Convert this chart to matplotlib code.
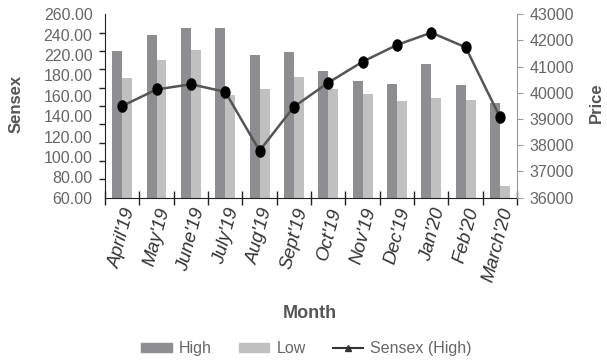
import numpy as np
import matplotlib.pyplot as plt
from matplotlib.lines import Line2D
from matplotlib.patches import Patch
from matplotlib.path import Path

plt.rcParams['font.family'] = ['Liberation Sans', 'DejaVu Sans']

months = ["April'19", "May'19", "June'19", "July'19", "Aug'19", "Sept'19",
          "Oct'19", "Nov'19", "Dec'19", "Jan'20", "Feb'20", "March'20"]
high = [220, 237, 245, 245, 216, 219, 198, 187, 184, 206, 183, 163]
low = [190, 210, 221, 172, 178, 192, 178, 173, 165, 169, 166, 73]
sensex_high = [39500, 40130, 40330, 40040, 37790, 39470,
               40390, 41190, 41830, 42300, 41740, 39070]
left_labels = ["260.00", "240.00", "220.00", "180.00", "160.00", "140.00",
               "120.00", "100.00", "80.00", "60.00"]
right_ticks = [36000, 37000, 38000, 39000, 40000, 41000, 42000, 43000]

dark = '#8e8e92'
light = '#c0c0c0'
text_c = '#666666'

# upright ellipse marker for the line points
t = np.linspace(0, 2 * np.pi, 40)
ellipse = Path(np.column_stack([0.8 * np.cos(t), np.sin(t)]), closed=True)

fig = plt.figure(figsize=(6.07, 3.62), dpi=100)
ax = fig.add_axes([0.173, 0.454, 0.679, 0.5065])
x = np.arange(len(months))
w = 0.29
ax.bar(x - w / 2, high, w, color=dark, zorder=2)
ax.bar(x + w / 2, low, w, color=light, zorder=2)
ax.set_xlim(-0.5, len(months) - 0.5)
ax.set_ylim(60, 260)

# left axis: evenly spaced labels, tick marks every 20
ax.set_yticks(np.linspace(260, 60, len(left_labels)))
ax.set_yticklabels(left_labels)
ax.tick_params(axis='y', which='major', length=0, pad=9, labelsize=11.5, labelcolor=text_c)
ax.set_yticks(np.arange(60, 261, 20), minor=True)
ax.tick_params(axis='y', which='minor', length=4, width=1, color='#222222')

ax.set_xticks(x)
ax.set_xticklabels(months, rotation=75, ha='right', rotation_mode='anchor',
                   style='italic', fontsize=13.5, color='#333333')
ax.tick_params(axis='x', which='major', length=0, pad=6)
ax.set_xticks(np.arange(-0.5, len(months), 1), minor=True)
ax.tick_params(axis='x', which='minor', direction='inout', length=10, width=1, color='#222222')

for s in ['top', 'right']:
    ax.spines[s].set_visible(False)
ax.spines['left'].set_color('#222222')
ax.spines['bottom'].set_color('#222222')

ax2 = ax.twinx()
ax2.plot(x, sensex_high, color='#555555', lw=1.8, marker=ellipse, markersize=8,
         markerfacecolor='black', markeredgecolor='black', zorder=3)
ax2.set_ylim(36000, 43000)
ax2.set_yticks(right_ticks)
ax2.tick_params(axis='y', length=4, color='#999999', labelsize=11.5, labelcolor=text_c, pad=5)
for s in ['top', 'left', 'bottom']:
    ax2.spines[s].set_visible(False)
ax2.spines['right'].set_color('#999999')

fig.text(0.027, 0.713, 'Sensex', rotation=90, ha='center', va='center',
         fontsize=12, fontweight='bold', color='#555555')
fig.text(0.982, 0.715, 'Price', rotation=90, ha='center', va='center',
         fontsize=12, fontweight='bold', color='#555555')
fig.text(0.51, 0.133, 'Month', ha='center', va='center',
         fontsize=13, fontweight='bold', color='#555555')

handles = [Patch(color=dark), Patch(color=light),
           Line2D([0], [0], color='#333333', lw=1.5, marker='^', markersize=4)]
fig.legend(handles, ['High', 'Low', 'Sensex (High)'], loc='center',
           bbox_to_anchor=(0.505, 0.038), ncol=3, frameon=False, fontsize=11.5,
           handlelength=1.9, handleheight=0.5, handletextpad=0.45,
           columnspacing=1.7, labelcolor=text_c)

fig.savefig('out.png', dpi=100)
